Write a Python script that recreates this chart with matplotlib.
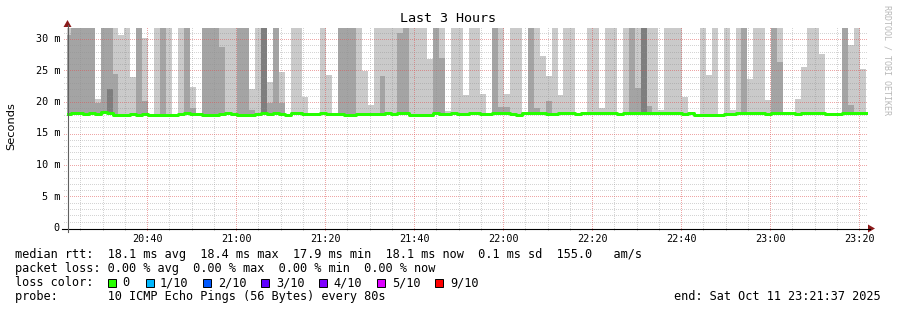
import numpy as np
import matplotlib
matplotlib.use("Agg")
import matplotlib.pyplot as plt
import matplotlib.transforms as mtransforms
from matplotlib.patches import Polygon, Rectangle
from matplotlib.lines import Line2D

W, H, DPI = 897, 310, 100

# ---------------- data ----------------
title = "Last 3 Hours"
y_label = "Seconds"
window_start_clock = "20:21:37"
step_seconds = 80
first_column_offset_min = -0.033   # first 80 s column starts just before the window

# median RTT per 80 s column (ms)
median_ms = [
    18.1, 18.3, 18.3, 18.1, 18.3, 18.1, 18.4, 18.2, 18.0, 18.0,
    18.0, 18.1, 18.0, 18.1, 18.0, 18.0, 18.0, 18.0, 18.0, 18.1,
    18.2, 18.1, 18.1, 18.0, 18.0, 18.0, 18.1, 18.3, 18.1, 18.0,
    18.0, 18.0, 18.1, 18.2, 18.1, 18.2, 18.1, 18.0, 18.2, 18.2,
    18.1, 18.1, 18.1, 18.2, 18.1, 18.1, 18.1, 18.0, 18.0, 18.1,
    18.1, 18.1, 18.1, 18.1, 18.2, 18.1, 18.2, 18.2, 17.9, 18.0,
    17.9, 18.0, 18.2, 18.1, 18.1, 18.2, 18.1, 18.1, 18.2, 18.2,
    18.1, 18.1, 18.3, 18.2, 18.2, 18.1, 17.9, 18.2, 18.2, 18.2,
    18.2, 18.1, 18.1, 18.2, 18.2, 18.2, 18.1, 18.2, 18.2, 18.3,
    18.3, 18.2, 18.2, 18.1, 18.2, 18.2, 18.2, 18.3, 18.2, 18.2,
    18.3, 18.2, 18.2, 18.2, 18.1, 18.3, 18.0, 18.0, 18.0, 18.0,
    17.9, 18.1, 18.1, 18.2, 18.2, 18.2, 18.2, 18.2, 18.1, 18.3,
    18.3, 18.2, 18.2, 18.1, 18.2, 18.2, 18.3, 18.3, 18.1, 18.1,
    18.1, 18.2, 18.2, 18.2, 18.2,
]

# slowest ping of 10 (top of lightest smoke); None = hidden under the median
smoke_p10_ms = [
    35, 35, 35, 35, 35, 20.5, 35, 35, 35, 30.6,
    35, 24.0, 35, 30.2, None, 35, 35, 35, None, 35,
    35, 22.4, None, 35, 35, 35, 35, 35, 35, 35,
    35, 22.0, 35, 35, 23.2, 35, 24.7, None, 35, 35,
    20.8, None, None, 35, 24.3, None, 35, 35, 35, 35,
    24.9, 19.5, 35, 35, 35, 35, 35, 35, 35, 35,
    35, 26.8, 35, 35, 18.6, 35, 35, 21.1, 35, 35,
    21.3, None, 35, 35, 21.3, 35, 35, None, 35, 35,
    27.3, 24.1, 35, 21.1, 35, 35, None, None, 35, 35,
    19.0, 35, 35, None, 35, 35, 35, 35, 35, 35,
    18.7, 35, 35, 35, 20.8, None, None, 35, 24.3, 35,
    None, 35, 18.7, 35, 35, 23.6, 35, 35, 20.3, 35,
    35, None, None, 20.5, 25.5, 35, 35, 27.6, None, None,
    None, 35, 29.0, 35, 25.2,
]

# 9th ping (top of medium smoke)
smoke_p9_ms = [
    30.6, 35, 35, 35, 35, 19.8, 35, 35, 24.4, None,
    None, None, 35, 20.2, None, None, 35, None, None, None,
    35, 19.1, None, 35, 35, 35, 28.8, None, None, 35,
    35, 18.7, None, 35, 19.9, 35, 19.9, None, None, None,
    None, None, None, None, None, None, 35, 35, 35, None,
    None, None, None, 24.1, None, None, 30.9, 35, None, None,
    None, None, 35, 27.0, None, None, None, None, None, None,
    None, None, 35, 19.2, 19.2, None, None, None, 35, 19.1,
    None, 20.2, None, None, None, None, None, None, None, None,
    None, None, None, None, None, 35, 22.2, 35, 19.3, None,
    None, None, None, None, None, None, None, None, None, None,
    None, None, None, None, 35, None, None, None, None, 35,
    26.4, None, None, None, None, None, None, None, None, None,
    None, 35, 19.5, None, None,
]

# 8th ping (top of dark smoke), only where it shows
dark_columns = [7, 33, 97]
dark_top_ms = [22.1, 35, 35]

x_tick_labels = ["20:40", "21:00", "21:20", "21:40", "22:00",
                 "22:20", "22:40", "23:00", "23:20"]
y_tick_values = [0, 5, 10, 15, 20, 25, 30]
y_tick_labels = ["0", "5 m", "10 m", "15 m", "20 m", "25 m", "30 m"]

legend_lines = [
    "median rtt:  18.1 ms avg  18.4 ms max  17.9 ms min  18.1 ms now  0.1 ms sd  155.0   am/s",
    "packet loss: 0.00 % avg  0.00 % max  0.00 % min  0.00 % now",
    "loss color:",
    "probe:       10 ICMP Echo Pings (56 Bytes) every 80s",
]
loss_labels = ["0", "1/10", "2/10", "3/10", "4/10", "5/10", "9/10"]
loss_colors = ["#26ff00", "#00b8ff", "#0059ff", "#5e00ff", "#7e00ff", "#dd00ff", "#ff0000"]
end_text = "end: Sat Oct 11 23:21:37 2025"
credit = "RRDTOOL / TOBI OETIKER"

# ---------------- figure ----------------
MONO = "DejaVu Sans Mono"
fig = plt.figure(figsize=(W / DPI, H / DPI), dpi=DPI)
fig.patch.set_facecolor("white")
px = mtransforms.Affine2D().scale(1 / W, -1 / H).translate(0, 1) + fig.transFigure

AX_L, AX_R, AX_T, AX_B = 67, 868, 28, 228
PX_PER_MIN = 4.45
X0_PX = 65.2          # pixel of window start
PX_PER_MS = 6.3

ax = fig.add_axes([AX_L / W, 1 - AX_B / H, (AX_R - AX_L) / W, (AX_B - AX_T) / H])
ax.set_facecolor("white")
for s in ax.spines.values():
    s.set_visible(False)
ax.set_xticks([])
ax.set_yticks([])
ax.set_xlim((AX_L - X0_PX) / PX_PER_MIN, (AX_R - X0_PX) / PX_PER_MIN)
ax.set_ylim(0, (AX_B - AX_T) / PX_PER_MS)

n = len(median_ms)
step_min = step_seconds / 60.0
edges = first_column_offset_min + step_min * np.arange(n + 1)
med = np.array(median_ms, dtype=float)


def layer(vals):
    a = np.array([m if v is None else v for v, m in zip(vals, med)], dtype=float)
    return np.maximum(a, med)


p10 = layer(smoke_p10_ms)
p9 = layer(smoke_p9_ms)
p8 = med.copy()
for c, v in zip(dark_columns, dark_top_ms):
    p8[c] = v


def ext(a):
    return np.append(a, a[-1])


for top, col in [(p10, "#cacaca"), (p9, "#a4a4a4"), (p8, "#7e7e7e")]:
    ax.fill_between(edges, ext(med), ext(top), step="post", color=col,
                    lw=0, antialiased=False, zorder=1)

# grid (pixel-aligned dotted lines, drawn over the smoke)
h0, m0, s0 = [int(v) for v in window_start_clock.split(":")]
start_min = h0 * 60 + m0 + s0 / 60.0


def clock_to_x(hhmm_minutes):
    return hhmm_minutes - start_min


major_min = [int(l[:2]) * 60 + int(l[3:]) for l in x_tick_labels]
minor_color = (0.56, 0.56, 0.56, 0.38)
major_color = (0.87, 0.31, 0.31, 0.5)


def grid_line(xs, ys, color):
    ln = Line2D(xs, ys, transform=px, color=color, lw=0.72, ls=(0, (1, 1)),
                antialiased=True, snap=False, zorder=3, clip_on=False,
                solid_capstyle="butt", dash_capstyle="butt")
    ax.add_line(ln)


for mm in range(major_min[0] - 15, major_min[-1] + 1, 5):
    xp = round(X0_PX + PX_PER_MIN * clock_to_x(mm)) + 0.5
    col = major_color if mm in major_min else minor_color
    grid_line([xp, xp], [231.0, float(AX_T)], col)
for v in range(1, 32):
    yp = round(AX_B - PX_PER_MS * v) + 0.5
    col = major_color if v % 5 == 0 else minor_color
    grid_line([64.0, float(AX_R)], [yp, yp], col)

# median line
ax.step(edges, ext(med), where="post", color="#26ff00", lw=2.16, zorder=4)

# axes lines + arrows
fig.add_artist(Line2D([62, 870], [228.5, 228.5], transform=px, color="black", lw=0.8))
fig.add_artist(Line2D([67.5, 67.5], [232, 25], transform=px, color="#606060", lw=0.8))
fig.add_artist(Polygon([[868, 224.5], [868, 232.5], [875, 228.5]], closed=True,
                       transform=px, color="#8b1a1a", lw=0))
fig.add_artist(Polygon([[63.5, 27], [71.5, 27], [67.5, 20]], closed=True,
                       transform=px, color="#8b1a1a", lw=0))

# tick labels
for lab, mm in zip(x_tick_labels, major_min):
    xp = X0_PX + PX_PER_MIN * clock_to_x(mm)
    fig.text(xp, 238.5, lab, transform=px, family=MONO, fontsize=7.3,
             ha="center", va="center")
for lab, v in zip(y_tick_labels, y_tick_values):
    yp = AX_B - PX_PER_MS * v
    fig.text(60, yp, lab, transform=px, family=MONO, fontsize=7.3,
             ha="right", va="center")

# titles
fig.text(448, 19, title, transform=px, family=MONO, fontsize=9.6, ha="center", va="center")
fig.text(11, 126, y_label, transform=px, family="DejaVu Sans", fontsize=8.2,
         rotation=90, ha="center", va="center")
fig.text(887, 60, credit, transform=px, family=MONO, fontsize=6.0, color="#b8b8b8",
         rotation=270, ha="center", va="center")

# legend
LEG_FS = 8.55
for i, line in enumerate(legend_lines):
    fig.text(15, 254.5 + 14 * i, line, transform=px, family=MONO, fontsize=LEG_FS,
             ha="left", va="center")
sq_x = [108, 146, 203, 261, 319, 377, 435]
lab_x = [122, 160, 218, 276, 333, 392, 450]
for sx, lx, lab, col in zip(sq_x, lab_x, loss_labels, loss_colors):
    fig.add_artist(Rectangle((sx, 278.5), 8, 8, transform=px, facecolor=col,
                             edgecolor="black", lw=0.7))
    fig.text(lx, 282.5, lab, transform=px, family=MONO, fontsize=LEG_FS,
             ha="left", va="center")
fig.text(881, 296.5, end_text, transform=px, family=MONO, fontsize=LEG_FS,
         ha="right", va="center")

fig.savefig("out.png", dpi=DPI, facecolor="white")
